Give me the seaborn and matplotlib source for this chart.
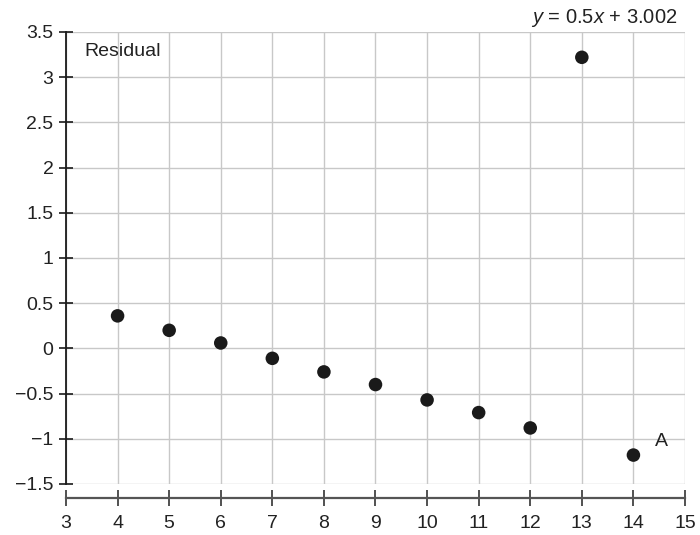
import matplotlib
matplotlib.use("Agg")
import matplotlib.pyplot as plt
import seaborn as sns
import pandas as pd
import numpy as np

x_values = [4, 5, 6, 7, 8, 9, 10, 11, 12, 13, 14]
residuals = [0.36, 0.20, 0.06, -0.11, -0.26, -0.40, -0.57, -0.71, -0.88, 3.22, -1.18]
x_ticks = [3, 4, 5, 6, 7, 8, 9, 10, 11, 12, 13, 14, 15]
y_ticks = [-1.5, -1, -0.5, 0, 0.5, 1, 1.5, 2, 2.5, 3, 3.5]
y_tick_labels = ["\u22121.5", "\u22121", "\u22120.5", "0", "0.5", "1", "1.5", "2", "2.5", "3", "3.5"]

sns.set_style("white")
plt.rcParams["font.family"] = ["Liberation Sans", "DejaVu Sans"]
plt.rcParams["mathtext.fontset"] = "custom"
plt.rcParams["mathtext.rm"] = "Liberation Sans"
plt.rcParams["mathtext.it"] = "Liberation Sans:italic"

df = pd.DataFrame({"x": x_values, "res": residuals})

fig = plt.figure(figsize=(7, 5.35), dpi=100)
ax = fig.add_axes([66 / 700, 1 - 484 / 535, (685 - 66) / 700, (484 - 32) / 535])

sns.scatterplot(data=df, x="x", y="res", ax=ax, s=95, color="#1a1a1a",
                edgecolor="none", zorder=3)

ax.set_xlim(3, 15)
ax.set_ylim(-1.5, 3.5)
ax.set_xticks(x_ticks)
ax.set_xticklabels([str(t) for t in x_ticks])
ax.set_yticks(y_ticks)
ax.set_yticklabels(y_tick_labels)
ax.set_xlabel("")
ax.set_ylabel("")

ax.grid(True, color="#c8c8c8", linewidth=1.0, zorder=0)
ax.set_axisbelow(True)

for s in ["top", "right"]:
    ax.spines[s].set_visible(False)
ax.spines["left"].set_color("#1a1a1a")
ax.spines["left"].set_linewidth(1.3)
ax.spines["left"].set_zorder(4)
ax.spines["bottom"].set_position(("outward", 10))
ax.spines["bottom"].set_color("#555555")
ax.spines["bottom"].set_linewidth(1.6)

fs = 14
ax.tick_params(axis="y", left=True, direction="inout", length=10, width=1.2, color="#1a1a1a",
               labelsize=fs, labelcolor="#222222", pad=4)
ax.tick_params(axis="x", bottom=True, direction="inout", length=11, width=1.2, color="#333333",
               labelsize=fs, labelcolor="#222222", pad=7)

ax.text(3.35, 3.28, "Residual", fontsize=fs, color="#222222", ha="left", va="center")
ax.text(14.55, -1.03, "A", fontsize=fs, color="#222222", ha="center", va="center")
ax.text(14.85, 3.66, r"$\it{y}$ = 0.5$\it{x}$ + 3.002", fontsize=14.5, color="#222222",
        ha="right", va="center", clip_on=False)

fig.savefig("out.png", dpi=100)
